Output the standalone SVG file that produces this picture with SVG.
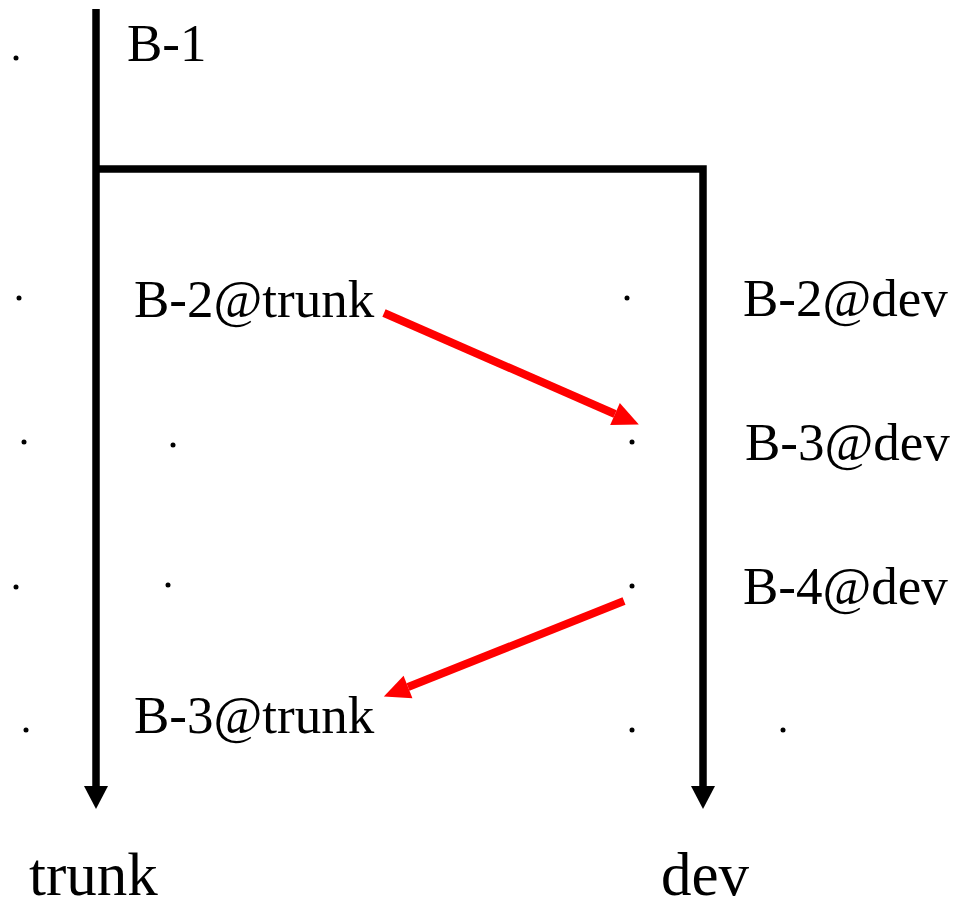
<svg xmlns="http://www.w3.org/2000/svg" width="955" height="908" viewBox="0 0 955 908">
<style>
.lbl{font-family:"Liberation Serif","Times New Roman",serif;font-size:53px;fill:#000}
.br{font-family:"Liberation Serif","Times New Roman",serif;font-size:61px;fill:#000}
.ln{fill:none;stroke:#000;stroke-width:7.5}
.rd{fill:none;stroke:#ff0000;stroke-width:8}
.dot{fill:#000}
</style>
<defs>
<marker id="bh" markerUnits="userSpaceOnUse" viewBox="0 -13 24 26" refX="0" refY="0" markerWidth="24" markerHeight="26" orient="auto" overflow="visible">
<path d="M0,-12 L23,0 L0,12 z" fill="#000"/>
</marker>
<marker id="rh" markerUnits="userSpaceOnUse" viewBox="0 -13 27 26" refX="0" refY="0" markerWidth="27" markerHeight="26" orient="auto" overflow="visible">
<path d="M0,-12 L26,0 L0,12 z" fill="#ff0000"/>
</marker>
</defs>
<g id="connectors">
<path id="trunk-line" class="ln" d="M96,9 V786" marker-end="url(#bh)"/>
<path id="dev-line" class="ln" d="M96,169 H703 V786" marker-end="url(#bh)"/>
<path id="merge-1" class="rd" d="M384,313 L615,414" marker-end="url(#rh)"/>
<path id="merge-2" class="rd" d="M624,601 L408,687" marker-end="url(#rh)"/>
</g>
<g id="dots">
<circle class="dot" cx="16" cy="58" r="2.5"/>
<circle class="dot" cx="19" cy="298" r="2.5"/>
<circle class="dot" cx="627" cy="298" r="2.5"/>
<circle class="dot" cx="24" cy="442" r="2.5"/>
<circle class="dot" cx="173" cy="445" r="2.5"/>
<circle class="dot" cx="632" cy="442" r="2.5"/>
<circle class="dot" cx="16" cy="587" r="2.5"/>
<circle class="dot" cx="168" cy="585" r="2.5"/>
<circle class="dot" cx="632" cy="586" r="2.5"/>
<circle class="dot" cx="26" cy="730" r="2.5"/>
<circle class="dot" cx="632" cy="730" r="2.5"/>
<circle class="dot" cx="783" cy="730" r="2.5"/>
</g>
<g id="B-1"><text class="lbl" x="127" y="61">B-1</text></g>
<g id="B-2-trunk"><text class="lbl" x="134" y="317">B-2@trunk</text></g>
<g id="B-2-dev"><text class="lbl" x="743" y="316">B-2@dev</text></g>
<g id="B-3-dev"><text class="lbl" x="745" y="460">B-3@dev</text></g>
<g id="B-4-dev"><text class="lbl" x="743" y="604">B-4@dev</text></g>
<g id="B-3-trunk"><text class="lbl" x="134" y="733">B-3@trunk</text></g>
<g id="trunk"><text class="br" x="29" y="895">trunk</text></g>
<g id="dev"><text class="br" x="661" y="895">dev</text></g>
</svg>
